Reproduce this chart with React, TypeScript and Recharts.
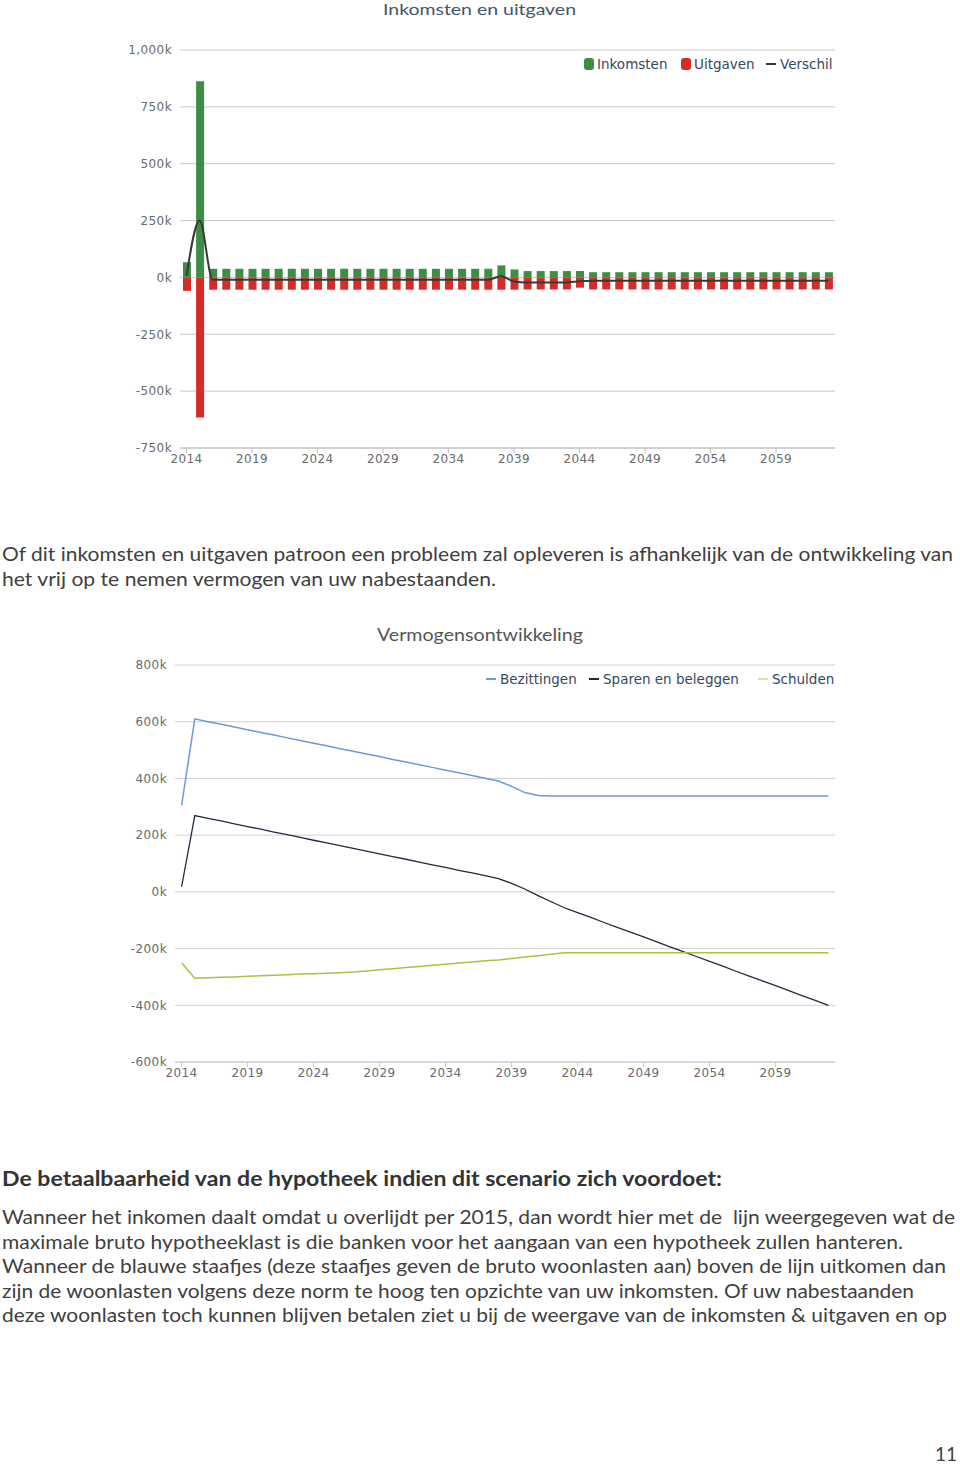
import React from 'react';
import {
  ComposedChart,
  LineChart,
  Bar,
  Line,
  XAxis,
  YAxis,
  CartesianGrid,
} from 'recharts';

// ---------- categories ----------
const years = [
  '2014', '2015', '2016', '2017', '2018', '2019', '2020', '2021', '2022', '2023',
  '2024', '2025', '2026', '2027', '2028', '2029', '2030', '2031', '2032', '2033',
  '2034', '2035', '2036', '2037', '2038', '2039', '2040', '2041', '2042', '2043',
  '2044', '2045', '2046', '2047', '2048', '2049', '2050', '2051', '2052', '2053',
  '2054', '2055', '2056', '2057', '2058', '2059', '2060', '2061', '2062', '2063',
];

// ---------- chart 1: Inkomsten en uitgaven (values in thousands) ----------
const inkomsten = [
  67, 863, 38, 38, 38, 38, 38, 38, 38, 38,
  38, 38, 38, 38, 38, 38, 38, 38, 38, 38,
  38, 38, 38, 38, 53, 35, 28, 28, 28, 28,
  28, 23, 23, 23, 23, 23, 23, 23, 23, 23,
  23, 23, 23, 23, 23, 23, 23, 23, 23, 23,
];
const uitgaven = [
  -59, -616, -54, -54, -54, -54, -54, -54, -54, -54,
  -54, -54, -54, -54, -54, -54, -54, -54, -54, -54,
  -54, -54, -54, -54, -54, -54, -53, -53, -53, -53,
  -45, -53, -53, -53, -53, -53, -53, -53, -53, -53,
  -53, -53, -53, -53, -53, -53, -53, -53, -53, -53,
];
const verschil = [
  8, 250, -10, -10, -10, -10, -10, -10, -10, -10,
  -10, -10, -10, -10, -10, -10, -10, -10, -10, -10,
  -10, -10, -10, -10, 5, -18, -22, -22, -22, -22,
  -17, -15, -15, -15, -15, -15, -15, -15, -15, -15,
  -15, -15, -15, -15, -15, -15, -15, -15, -15, -15,
];
const ticks1 = [-750, -500, -250, 0, 250, 500, 750, 1000];

// ---------- chart 2: Vermogensontwikkeling (values in thousands) ----------
const bezittingen = [
  305, 610, 600, 591, 581, 572, 562, 553, 543, 534,
  524, 515, 505, 496, 486, 477, 467, 458, 448, 439,
  429, 420, 410, 401, 391, 372, 350, 340, 338, 338,
  338, 338, 338, 338, 338, 338, 338, 338, 338, 338,
  338, 338, 338, 338, 338, 338, 338, 338, 338, 338,
];
const sparen = [
  18, 269, 259, 250, 240, 230, 221, 211, 202, 192,
  182, 173, 163, 153, 144, 134, 124, 115, 105, 95,
  86, 76, 67, 57, 47, 30, 10, -13, -35, -56,
  -73, -90, -108, -125, -142, -159, -176, -194, -211, -228,
  -245, -262, -280, -297, -314, -331, -348, -366, -383, -400,
];
const schulden = [
  -250, -305, -303, -301, -300, -298, -296, -294, -292, -290,
  -289, -287, -285, -283, -279, -275, -271, -267, -263, -259,
  -255, -251, -247, -243, -240, -235, -230, -225, -220, -215,
  -215, -215, -215, -215, -215, -215, -215, -215, -215, -215,
  -215, -215, -215, -215, -215, -215, -215, -215, -215, -215,
];
const ticks2 = [-600, -400, -200, 0, 200, 400, 600, 800];

// ---------- page text ----------
const title1 = 'Inkomsten en uitgaven';
const title2 = 'Vermogensontwikkeling';
const paragraph1 = [
  'Of dit inkomsten en uitgaven patroon een probleem zal opleveren is afhankelijk van de ontwikkeling van',
  'het vrij op te nemen vermogen van uw nabestaanden.',
];
const heading = 'De betaalbaarheid van de hypotheek indien dit scenario zich voordoet:';
const paragraph2 = [
  'Wanneer het inkomen daalt omdat u overlijdt per 2015, dan wordt hier met de  lijn weergegeven wat de',
  'maximale bruto hypotheeklast is die banken voor het aangaan van een hypotheek zullen hanteren.',
  'Wanneer de blauwe staafjes (deze staafjes geven de bruto woonlasten aan) boven de lijn uitkomen dan',
  'zijn de woonlasten volgens deze norm te hoog ten opzichte van uw inkomsten. Of uw nabestaanden',
  'deze woonlasten toch kunnen blijven betalen ziet u bij de weergave van de inkomsten & uitgaven en op',
];
const pageNumber = '11';

const data1 = years.map((y, i) => ({
  year: y,
  inkomsten: inkomsten[i],
  uitgaven: uitgaven[i],
  verschil: verschil[i],
}));
const data2 = years.map((y, i) => ({
  year: y,
  bezittingen: bezittingen[i],
  sparen: sparen[i],
  schulden: schulden[i],
}));

const GREEN = '#3f8c46';
const RED = '#d62c27';
const DARK = '#383838';
const BLUE = '#6b9bd6';
const NAVY = '#1e2c40';
const OLIVE = '#a6c43f';
const AXIS_FONT = 'DejaVu Sans';
const LEGEND_COLOR = '#34495e';

const fmtK = (v: number) => `${v.toLocaleString('en-US')}k`;

const tickStyle = { fontFamily: AXIS_FONT, fontSize: 12, fill: '#6a6a6a', letterSpacing: 0.4 };

type LegendItem = { label: string; color: string; kind: 'box' | 'line'; width: number };

const LegendRow = ({ items, top }: { items: LegendItem[]; top: number }) => (
  <div
    style={{
      position: 'absolute',
      top,
      right: 125,
      display: 'flex',
      alignItems: 'center',
      fontFamily: AXIS_FONT,
      fontSize: 13.5,
      color: LEGEND_COLOR,
      lineHeight: '16px',
      whiteSpace: 'nowrap',
    }}
  >
    {items.map((it, idx) => (
      <div
        key={it.label}
        style={{ display: 'flex', alignItems: 'center', marginLeft: idx === 0 ? 0 : 11 }}
      >
        {it.kind === 'box' ? (
          <span
            style={{
              display: 'inline-block',
              width: 10,
              height: 12,
              borderRadius: 3,
              background: it.color,
              marginRight: 3,
            }}
          />
        ) : (
          <span
            style={{
              display: 'inline-block',
              width: 10,
              height: 2,
              background: it.color,
              marginRight: 4,
            }}
          />
        )}
        <span style={{ display: 'inline-block', width: it.width }}>{it.label}</span>
      </div>
    ))}
  </div>
);

const legend1Items: LegendItem[] = [
  { label: 'Inkomsten', color: GREEN, kind: 'box', width: 73 },
  { label: 'Uitgaven', color: RED, kind: 'box', width: 61 },
  { label: 'Verschil', color: DARK, kind: 'line', width: 55 },
];
const legend2Items: LegendItem[] = [
  { label: 'Bezittingen', color: BLUE, kind: 'line', width: 78 },
  { label: 'Sparen en beleggen', color: NAVY, kind: 'line', width: 144 },
  { label: 'Schulden', color: '#e2e29a', kind: 'line', width: 63 },
];

const TEXT_FONT = 'Lato, "Open Sans", sans-serif';

export default function App() {
  return (
    <div
      style={{
        position: 'absolute',
        left: 0,
        top: 0,
        width: 960,
        height: 1466,
        background: '#ffffff',
        overflow: 'hidden',
      }}
    >
      <svg width={960} height={1466} style={{ position: 'absolute', left: 0, top: 0 }}>
        <text
          x={383}
          y={15}
          fontFamily={TEXT_FONT}
          fontSize={16}
          fill="#44556a"
          textLength={193}
          lengthAdjust="spacingAndGlyphs"
        >
          {title1}
        </text>
        <text
          x={377}
          y={641}
          fontFamily={TEXT_FONT}
          fontSize={18}
          fill="#555555"
          textLength={206}
          lengthAdjust="spacingAndGlyphs"
        >
          {title2}
        </text>
        {paragraph1.map((line, i) => (
          <text
            key={line}
            x={2}
            y={561 + i * 25}
            fontFamily={TEXT_FONT}
            fontSize={20}
            fill="#404040"
            textLength={i === 0 ? 951 : 494}
            lengthAdjust="spacingAndGlyphs"
          >
            {line}
          </text>
        ))}
        <text
          x={2}
          y={1186}
          fontFamily={TEXT_FONT}
          fontSize={21}
          fontWeight="bold"
          fill="#333333"
          textLength={720}
          lengthAdjust="spacingAndGlyphs"
        >
          {heading}
        </text>
        {paragraph2.map((line, i) => (
          <text
            key={line}
            x={2}
            y={1224 + i * 24.6}
            fontFamily={TEXT_FONT}
            fontSize={20}
            fill="#404040"
            textLength={[953, 901, 944, 912, 945][i]}
            lengthAdjust="spacingAndGlyphs"
            style={{ whiteSpace: 'pre' }}
          >
            {line}
          </text>
        ))}
        <text x={935} y={1461} fontFamily={TEXT_FONT} fontSize={19} fill="#404040">
          {pageNumber}
        </text>
      </svg>

      {/* Chart 1 */}
      <div style={{ position: 'absolute', left: 0, top: 0, width: 960, height: 480 }}>
        <ComposedChart
          width={960}
          height={480}
          data={data1}
          margin={{ top: 50, right: 125, bottom: 10, left: 0 }}
          stackOffset="sign"
          barGap={0}
        >
          <CartesianGrid vertical={false} stroke="#c8c8c8" />
          <XAxis
            dataKey="year"
            interval={4}
            height={22}
            tick={tickStyle}
            tickSize={5}
            tickMargin={1}
            stroke="#c0c0c0"
          />
          <YAxis
            width={180}
            domain={[-750, 1000]}
            ticks={ticks1}
            tickFormatter={fmtK}
            tick={tickStyle}
            axisLine={false}
            tickLine={false}
            interval={0}
            allowDataOverflow
          />
          <Bar
            dataKey="inkomsten"
            name="Inkomsten"
            stackId="a"
            fill={GREEN}
            barSize={8}
            isAnimationActive={false}
          />
          <Bar
            dataKey="uitgaven"
            name="Uitgaven"
            stackId="a"
            fill={RED}
            barSize={8}
            isAnimationActive={false}
          />
          <Line
            dataKey="verschil"
            name="Verschil"
            type="monotone"
            stroke={DARK}
            strokeWidth={2}
            dot={false}
            activeDot={false}
            isAnimationActive={false}
          />
        </ComposedChart>
        <LegendRow items={legend1Items} top={56} />
      </div>

      {/* Chart 2 */}
      <div style={{ position: 'absolute', left: 0, top: 620, width: 960, height: 480 }}>
        <LineChart
          width={960}
          height={480}
          data={data2}
          margin={{ top: 45, right: 125, bottom: 16, left: 0 }}
        >
          <CartesianGrid vertical={false} stroke="#d0d0d0" />
          <XAxis
            dataKey="year"
            interval={4}
            height={22}
            tick={tickStyle}
            tickSize={5}
            tickMargin={1}
            stroke="#c8c8c8"
            padding={{ left: 6.6, right: 6.6 }}
          />
          <YAxis
            width={175}
            domain={[-600, 800]}
            ticks={ticks2}
            tickFormatter={fmtK}
            tick={tickStyle}
            axisLine={false}
            tickLine={false}
            interval={0}
          />
          <Line
            dataKey="bezittingen"
            name="Bezittingen"
            type="linear"
            stroke={BLUE}
            strokeWidth={1.5}
            dot={false}
            activeDot={false}
            isAnimationActive={false}
          />
          <Line
            dataKey="sparen"
            name="Sparen en beleggen"
            type="linear"
            stroke={NAVY}
            strokeWidth={1.3}
            dot={false}
            activeDot={false}
            isAnimationActive={false}
          />
          <Line
            dataKey="schulden"
            name="Schulden"
            type="linear"
            stroke={OLIVE}
            strokeWidth={1.5}
            dot={false}
            activeDot={false}
            isAnimationActive={false}
          />
        </LineChart>
        <LegendRow items={legend2Items} top={51} />
      </div>
    </div>
  );
}
